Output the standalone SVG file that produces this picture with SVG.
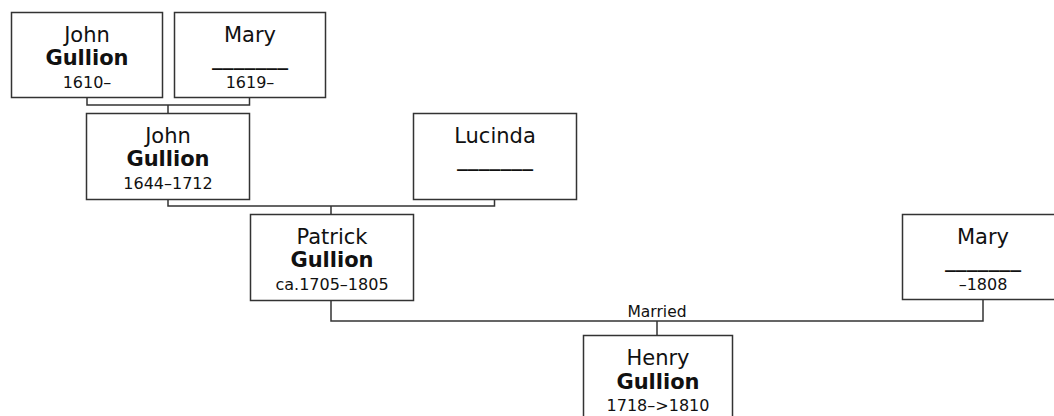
<svg xmlns="http://www.w3.org/2000/svg" width="1054" height="416" viewBox="0 0 1054 416">
<style>
.box{fill:#fff;stroke:#333;stroke-width:1.5}
.con{fill:none;stroke:#333;stroke-width:1.5}
text{font-family:"DejaVu Sans",Verdana,sans-serif;text-anchor:middle;fill:#111}
.n{font-size:21px}
.s{font-size:21px;font-weight:bold}
.d{font-size:16px}
.u{font-size:20px;font-weight:bold}
.m{font-size:15.5px}
</style>
<rect width="1054" height="416" fill="#fff"/>
<g id="connectors">
<path class="con" d="M87,97.5 V105 H249.5 V97.5 M168,105 V113"/>
<path class="con" d="M168,199 V206 H494.5 V199 M331,206 V214"/>
<path class="con" d="M331,300 V321 H983 V299 M657,321 V335"/>
<text class="m" x="657" y="317">Married</text>
</g>
<g id="n1">
<rect class="box" x="11.5" y="12.5" width="151" height="85"/>
<text class="n" x="87" y="42">John</text>
<text class="s" x="87" y="65">Gullion</text>
<text class="d" x="87" y="88">1610–</text>
</g>
<g id="n2">
<rect class="box" x="174.5" y="12.5" width="151" height="85"/>
<text class="n" x="250" y="42">Mary</text>
<text class="u" x="250" y="65" textLength="76" lengthAdjust="spacingAndGlyphs">_______</text>
<text class="d" x="250" y="88">1619–</text>
</g>
<g id="n3">
<rect class="box" x="86.5" y="113.5" width="163" height="86"/>
<text class="n" x="168" y="143">John</text>
<text class="s" x="168" y="166">Gullion</text>
<text class="d" x="168" y="189">1644–1712</text>
</g>
<g id="n4">
<rect class="box" x="413.5" y="113.5" width="163" height="86"/>
<text class="n" x="495" y="143">Lucinda</text>
<text class="u" x="495" y="166" textLength="76" lengthAdjust="spacingAndGlyphs">_______</text>
</g>
<g id="n5">
<rect class="box" x="250.5" y="214.5" width="163" height="86"/>
<text class="n" x="332" y="244">Patrick</text>
<text class="s" x="332" y="267">Gullion</text>
<text class="d" x="332" y="290">ca.1705–1805</text>
</g>
<g id="n6">
<rect class="box" x="902.5" y="214.5" width="162" height="85"/>
<text class="n" x="983" y="244">Mary</text>
<text class="u" x="983" y="267" textLength="76" lengthAdjust="spacingAndGlyphs">_______</text>
<text class="d" x="983" y="290">–1808</text>
</g>
<g id="n7">
<rect class="box" x="583.5" y="335.5" width="149" height="90"/>
<text class="n" x="658" y="365">Henry</text>
<text class="s" x="658" y="389">Gullion</text>
<text class="d" x="658" y="411">1718–&gt;1810</text>
</g>
</svg>
